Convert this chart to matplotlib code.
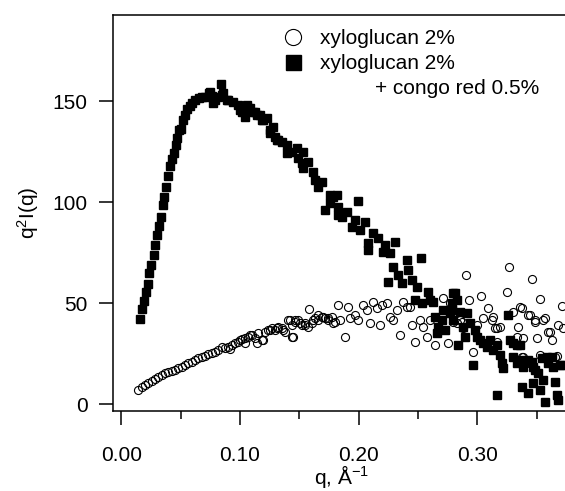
import matplotlib
matplotlib.use("Agg")
import matplotlib.pyplot as plt
from matplotlib.ticker import MultipleLocator

plt.rcParams['font.family'] = ['Liberation Sans', 'DejaVu Sans']
plt.rcParams['mathtext.fontset'] = 'custom'
plt.rcParams['mathtext.rm'] = 'Liberation Sans'
plt.rcParams['mathtext.it'] = 'Liberation Sans'

# xyloglucan 2% (open circles)
q_xg = [0.0146, 0.0174, 0.0202, 0.0230, 0.0258, 0.0286, 0.0314, 0.0342, 0.0370, 0.0398,
        0.0426, 0.0455, 0.0483, 0.0511, 0.0539, 0.0567, 0.0595, 0.0623, 0.0651, 0.0679,
        0.0707, 0.0735, 0.0763, 0.0791, 0.0819, 0.0847, 0.0875, 0.0903, 0.0918, 0.0932,
        0.0960, 0.0987, 0.1002, 0.1016, 0.1044, 0.1044, 0.1072, 0.1086, 0.1100, 0.1128,
        0.1142, 0.1156, 0.1184, 0.1198, 0.1212, 0.1240, 0.1254, 0.1268, 0.1296, 0.1311,
        0.1324, 0.1352, 0.1366, 0.1380, 0.1408, 0.1423, 0.1437, 0.1437, 0.1450, 0.1465,
        0.1465, 0.1493, 0.1507, 0.1521, 0.1549, 0.1549, 0.1577, 0.1582, 0.1605, 0.1619,
        0.1633, 0.1661, 0.1661, 0.1689, 0.1703, 0.1717, 0.1745, 0.1745, 0.1773, 0.1787,
        0.1801, 0.1829, 0.1843, 0.1886, 0.1914, 0.1928, 0.1970, 0.1998, 0.2040, 0.2068,
        0.2096, 0.2124, 0.2152, 0.2180, 0.2195, 0.2237, 0.2264, 0.2292, 0.2321, 0.2348,
        0.2376, 0.2405, 0.2433, 0.2447, 0.2475, 0.2517, 0.2545, 0.2573, 0.2601, 0.2643,
        0.2713, 0.2755, 0.2769, 0.2797, 0.2826, 0.2854, 0.2868, 0.2882, 0.2902, 0.2932,
        0.2966, 0.2994, 0.3028, 0.3050, 0.3092, 0.3121, 0.3135, 0.3148, 0.3163, 0.3163,
        0.3190, 0.3247, 0.3269, 0.3303, 0.3331, 0.3345, 0.3359, 0.3373, 0.3373, 0.3387,
        0.3387, 0.3415, 0.3429, 0.3443, 0.3457, 0.3485, 0.3485, 0.3499, 0.3527, 0.3527,
        0.3555, 0.3569, 0.3597, 0.3611, 0.3625, 0.3653, 0.3667, 0.3680, 0.3709, 0.3723]
i_xg = [7.1, 8.4, 9.6, 10.4, 11.5, 12.5, 13.7, 14.5, 15.3, 16.1,
        16.5, 17.0, 17.8, 18.6, 19.5, 20.3, 21.1, 21.9, 22.8, 23.6,
        24.1, 24.9, 25.5, 26.0, 26.9, 28.2, 27.7, 28.5, 27.6, 29.4,
        30.2, 31.0, 31.8, 32.2, 32.7, 30.2, 33.5, 34.3, 34.3, 32.7,
        30.2, 35.1, 31.8, 31.8, 35.9, 36.8, 36.8, 37.6, 36.8, 37.6,
        38.4, 37.6, 36.8, 35.9, 41.7, 41.7, 39.3, 33.2, 33.5, 40.9,
        41.7, 41.7, 40.1, 39.3, 40.1, 39.3, 38.4, 47.0, 40.1, 41.7,
        42.6, 41.7, 44.2, 43.4, 43.4, 42.6, 41.7, 42.6, 43.4, 40.1,
        40.9, 49.2, 41.7, 33.5, 48.0, 42.6, 44.2, 41.7, 49.2, 46.7,
        40.1, 50.8, 47.5, 39.3, 49.2, 50.3, 43.4, 41.7, 46.7, 34.3,
        50.8, 48.3, 48.3, 39.3, 31.0, 41.7, 38.4, 33.5, 41.7, 29.4,
        52.5, 30.2, 50.0, 40.9, 40.1, 41.7, 40.9, 37.6, 64.0, 51.6,
        25.9, 39.3, 53.6, 42.6, 47.5, 41.7, 43.4, 37.6, 31.0, 37.6,
        38.4, 55.7, 68.1, 45.9, 33.5, 38.4, 48.0, 23.6, 47.5, 32.7,
        23.6, 20.3, 44.2, 44.2, 61.8, 41.7, 40.9, 32.7, 52.0, 24.4,
        41.7, 42.6, 35.9, 35.9, 31.8, 23.6, 23.9, 39.3, 48.8, 37.6]

# xyloglucan 2% + congo red 0.5% (filled squares)
q_cr = [0.0157, 0.0174, 0.0191, 0.0208, 0.0225, 0.0233, 0.0253, 0.0278, 0.0286, 0.0300,
        0.0317, 0.0337, 0.0351, 0.0359, 0.0376, 0.0393, 0.0412, 0.0429, 0.0443, 0.0460,
        0.0474, 0.0488, 0.0508, 0.0522, 0.0539, 0.0558, 0.0581, 0.0600, 0.0623, 0.0657,
        0.0679, 0.0707, 0.0741, 0.0749, 0.0763, 0.0777, 0.0791, 0.0819, 0.0842, 0.0853,
        0.0861, 0.0889, 0.0903, 0.0945, 0.0987, 0.1002, 0.1016, 0.1044, 0.1058, 0.1072,
        0.1086, 0.1114, 0.1128, 0.1142, 0.1170, 0.1184, 0.1198, 0.1226, 0.1254, 0.1254,
        0.1282, 0.1296, 0.1311, 0.1324, 0.1353, 0.1395, 0.1395, 0.1437, 0.1479, 0.1492,
        0.1521, 0.1535, 0.1535, 0.1577, 0.1619, 0.1633, 0.1661, 0.1689, 0.1717, 0.1759,
        0.1759, 0.1787, 0.1815, 0.1829, 0.1829, 0.1858, 0.1900, 0.1942, 0.1970, 0.1998,
        0.2012, 0.2054, 0.2082, 0.2082, 0.2124, 0.2166, 0.2208, 0.2222, 0.2250, 0.2264,
        0.2292, 0.2306, 0.2334, 0.2363, 0.2405, 0.2418, 0.2447, 0.2475, 0.2489, 0.2525,
        0.2531, 0.2587, 0.2601, 0.2629, 0.2643, 0.2657, 0.2671, 0.2700, 0.2713, 0.2727,
        0.2769, 0.2784, 0.2784, 0.2797, 0.2797, 0.2811, 0.2826, 0.2839, 0.2853, 0.2882,
        0.2896, 0.2910, 0.2938, 0.2966, 0.2980, 0.2994, 0.3022, 0.3050, 0.3078, 0.3106,
        0.3135, 0.3163, 0.3163, 0.3190, 0.3205, 0.3219, 0.3260, 0.3275, 0.3303, 0.3303,
        0.3331, 0.3331, 0.3359, 0.3373, 0.3373, 0.3387, 0.3429, 0.3429, 0.3457, 0.3471,
        0.3471, 0.3485, 0.3512, 0.3527, 0.3541, 0.3555, 0.3569, 0.3583, 0.3597, 0.3625,
        0.3639, 0.3653, 0.3667, 0.3680, 0.3695, 0.3709]
i_cr = [42.1, 47.3, 51.3, 55.6, 59.6, 64.9, 69.1, 74.1, 79.0, 84.0,
        88.4, 92.9, 98.8, 102.8, 107.7, 113.0, 118.0, 121.6, 124.3, 128.5,
        132.0, 135.8, 136.1, 140.7, 143.4, 146.0, 147.7, 149.0, 150.6, 151.5,
        152.3, 152.3, 154.0, 154.8, 152.6, 149.0, 150.6, 152.0, 158.4, 153.1,
        154.0, 150.6, 150.6, 149.8, 148.2, 145.7, 144.9, 142.4, 148.2, 146.5,
        146.5, 144.9, 144.9, 143.2, 143.2, 140.7, 140.7, 141.6, 134.2, 135.8,
        137.4, 132.5, 130.8, 130.8, 130.0, 128.4, 124.3, 125.0, 126.7, 121.8,
        119.3, 125.0, 116.8, 120.1, 115.1, 111.0, 107.7, 110.2, 96.2, 103.6,
        99.5, 102.8, 103.6, 93.7, 97.8, 92.9, 95.3, 87.9, 91.2, 100.8,
        86.3, 90.4, 79.7, 76.4, 84.7, 82.2, 75.5, 78.9, 60.7, 74.8,
        68.1, 80.5, 64.0, 59.9, 71.4, 66.5, 61.5, 51.6, 58.2, 72.3,
        50.0, 55.7, 51.6, 50.8, 43.4, 35.1, 38.4, 41.7, 46.7, 36.8,
        45.0, 50.0, 46.7, 55.0, 41.7, 55.0, 51.6, 29.4, 45.9, 38.4,
        33.5, 45.0, 40.1, 19.5, 36.8, 33.5, 31.8, 30.2, 28.5, 31.8,
        26.9, 29.4, 4.6, 24.4, 20.3, 17.8, 44.2, 31.8, 30.2, 23.6,
        29.4, 20.3, 29.4, 21.9, 8.7, 18.6, 21.9, 5.7, 21.1, 18.6,
        10.4, 17.0, 15.3, 7.1, 22.8, 12.0, 1.3, 23.6, 20.3, 23.6,
        18.6, 11.2, 4.6, 2.1, 19.5, 19.5]

labels = ['xyloglucan 2%', 'xyloglucan 2%']
extra_label = '+ congo red 0.5%'

fig = plt.figure(figsize=(5.65, 4.91), dpi=100)
ax = fig.add_axes([0.1995, 0.1629, 0.811, 0.8066])

ax.plot(q_xg, i_xg, linestyle='none', marker='o', ms=5.8, mfc='none', mec='black',
        mew=0.8, label=labels[0])
ax.plot(q_cr, i_cr, linestyle='none', marker='s', ms=5.4, color='black', mec='black',
        label=labels[1])

ax.set_xlim(-0.0071, 0.3788)
ax.set_ylim(-3.3, 192.7)

ax.xaxis.set_minor_locator(MultipleLocator(0.05))
ax.yaxis.set_major_locator(MultipleLocator(50))
ax.set_xticks([0.0, 0.1, 0.2, 0.3])
ax.set_xticklabels(['0.00', '0.10', '0.20', '0.30'])

for s in ax.spines.values():
    s.set_linewidth(1.1)
ax.spines['right'].set_visible(False)

ax.tick_params(axis='both', which='major', direction='out', length=10, width=1.1,
               labelsize=15)
ax.tick_params(axis='x', which='major', pad=15)
ax.tick_params(axis='y', which='major', pad=8)
ax.tick_params(axis='x', which='minor', direction='out', length=5.5, width=1.1)

ax.set_xlabel(r'q, Å$^{\mathregular{-1}}$', fontsize=15, labelpad=-1)
ax.set_ylabel(r'q$^{\mathregular{2}}$I(q)', fontsize=15, labelpad=8)

leg = ax.legend(loc='upper left', bbox_to_anchor=(282.6 / 565, 1 - 29 / 491),
                bbox_transform=fig.transFigure, frameon=False, fontsize=15,
                handlelength=1.0, handletextpad=0.8, borderpad=0, borderaxespad=0,
                labelspacing=0.3, markerscale=2.0)
ax.text(539 / 565, 1 - 88 / 491, extra_label, transform=fig.transFigure, fontsize=15,
        ha='right', va='center')

fig.savefig('out.png', dpi=100)
